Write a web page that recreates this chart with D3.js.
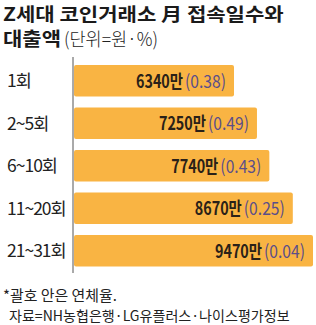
<!DOCTYPE html>
<html>
<head>
<meta charset="utf-8">
<script src="https://cdn.jsdelivr.net/npm/d3@7"></script>
<style>
  body { margin: 0; background: #fff; }
  text { font-family: "Noto Sans CJK KR", "Noto Sans", sans-serif; }
</style>
</head>
<body>
<svg width="316" height="325"></svg>
<script>
// data
var categories = ["1회", "2~5회", "6~10회", "11~20회", "21~31회"];
var amounts = [6340, 7250, 7740, 8670, 9470];   // 만원
var rates = ["0.38", "0.49", "0.43", "0.25", "0.04"]; // 연체율 %

var svg = d3.select("svg"),
    width = +svg.attr("width"),
    height = +svg.attr("height");

svg.append("rect").attr("width", width).attr("height", height).attr("fill", "#fff");

// squeeze a text horizontally so it takes w pixels, left edge at x
function fit(t, x, y, w) {
    var n = t.node().getComputedTextLength();
    t.attr("transform", "translate(" + x + "," + y + ") scale(" + (w / n) + ",1)");
    return t;
}

// title
fit(svg.append("text")
    .attr("font-size", 18).attr("font-weight", 700)
    .attr("fill", "#1a1a1a")
    .text("Z세대 코인거래소 月 접속일수와"), 3, 20.5, 281);
fit(svg.append("text")
    .attr("font-size", 19).attr("font-weight", 700)
    .attr("fill", "#1a1a1a")
    .text("대출액"), 3, 46, 58);
fit(svg.append("text")
    .attr("font-size", 18.5).attr("font-weight", 300)
    .attr("fill", "#222")
    .text("(단위=원·%)"), 64, 45.5, 94);

// scales
var x = d3.scaleLinear()
    .domain([0, 9470])
    .range([74, 313]);

var y = d3.scaleBand()
    .domain(categories)
    .range([59.5, 272])
    .paddingInner(0.26)
    .paddingOuter(0.13);

var rows = categories.map(function (c, i) {
    return { cat: c, amount: amounts[i], rate: rates[i] };
});

// bars
svg.selectAll(".bar")
    .data(rows)
    .enter().append("rect")
    .attr("class", "bar")
    .attr("x", x(0))
    .attr("y", function (d) { return y(d.cat); })
    .attr("width", function (d) { return x(d.amount) - x(0); })
    .attr("height", y.bandwidth())
    .attr("rx", 2).attr("ry", 2)
    .attr("fill", "#f9b443");

// baseline
svg.append("line")
    .attr("x1", 73).attr("x2", 73)
    .attr("y1", 57).attr("y2", 273)
    .attr("stroke", "#555").attr("stroke-width", 1);

// category labels
svg.selectAll(".cat")
    .data(rows)
    .enter().append("text")
    .attr("class", "cat")
    .attr("x", 7)
    .attr("y", function (d) { return y(d.cat) + y.bandwidth() / 2 + 6.5; })
    .attr("font-size", 17.5)
    .attr("fill", "#222")
    .attr("letter-spacing", -1)
    .text(function (d) { return d.cat; });

// value labels: rate in brackets at the bar end, amount just before it
var rateW = 41, amtW = 47;
rows.forEach(function (d) {
    var end = x(d.amount) - 8,
        base = y(d.cat) + y.bandwidth() / 2 + 7;
    fit(svg.append("text")
        .attr("class", "rate")
        .attr("font-size", 18)
        .attr("fill", "#5b4e8a")
        .text("(" + d.rate + ")"), end - rateW, base, rateW);
    fit(svg.append("text")
        .attr("class", "amt")
        .attr("font-size", 18).attr("font-weight", 700)
        .attr("fill", "#2a2118")
        .text(d.amount + "만"), end - rateW - 2 - amtW, base, amtW);
});

// footnote
fit(svg.append("text")
    .attr("font-size", 14.5).attr("fill", "#222")
    .text("*괄호 안은 연체율."), 3, 301, 114);
fit(svg.append("text")
    .attr("font-size", 14).attr("fill", "#222")
    .text("자료=NH농협은행·LG유플러스·나이스평가정보"), 9, 321, 281);
</script>
</body>
</html>
